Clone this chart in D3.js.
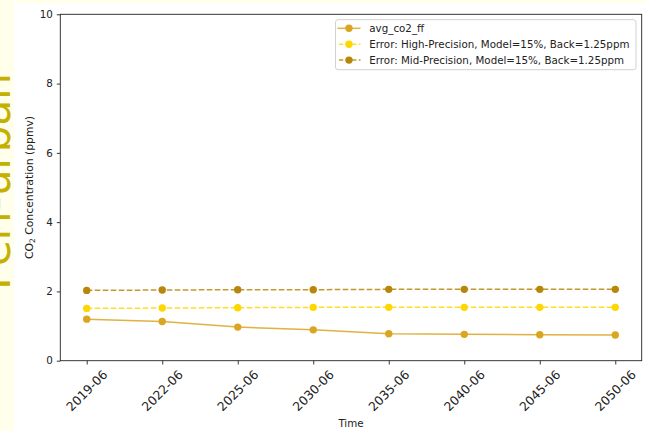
<!DOCTYPE html>
<html>
<head>
<meta charset="utf-8">
<script src="https://cdn.jsdelivr.net/npm/d3@7"></script>
<style>
  html, body { margin: 0; padding: 0; background: #FFFFEC; }
  svg { display: block; }
  text { font-family: "DejaVu Sans", sans-serif; }
</style>
</head>
<body>
<svg id="chart" width="646" height="431"></svg>
<script>
// Time steps (categorical x axis)
const categories = ["2019-06", "2022-06", "2025-06", "2030-06", "2035-06", "2040-06", "2045-06", "2050-06"];

// Fossil-fuel CO2 enhancement (ppmv)
const avgCo2Ff = [1.20, 1.13, 0.97, 0.89, 0.78, 0.76, 0.75, 0.74];
// Error estimates (ppmv)
const errHigh = [1.51, 1.52, 1.53, 1.54, 1.54, 1.54, 1.54, 1.54];
const errMid = [2.03, 2.04, 2.05, 2.05, 2.06, 2.06, 2.06, 2.06];

const yTicks = [0, 2, 4, 6, 8, 10];

const seriesNames = [
  "avg_co2_ff",
  "Error: High-Precision, Model=15%, Back=1.25ppm",
  "Error: Mid-Precision, Model=15%, Back=1.25ppm"
];

const series = [
  { name: seriesNames[0], values: avgCo2Ff, color: "#DAA520", dash: null },
  { name: seriesNames[1], values: errHigh, color: "#FFD700", dash: "5.6,2.4" },
  { name: seriesNames[2], values: errMid, color: "#B8860B", dash: "5.6,2.4" }
];

const W = 646, H = 431;
const plot = { left: 60.3, top: 14.3, right: 641.7, bottom: 360.7 };

const svg = d3.select("#chart");

// Site title running up the left edge
svg.append("text")
  .attr("transform", `translate(9.5, 181.5) rotate(-90)`)
  .attr("text-anchor", "middle")
  .attr("font-size", 42)
  .attr("fill", "#C4B000")
  .text("Peri-urban");

// White figure panel
svg.append("rect")
  .attr("x", 14).attr("y", 3.5)
  .attr("width", W - 14).attr("height", H - 3.5)
  .attr("fill", "#ffffff");

const x = d3.scalePoint()
  .domain(categories)
  .range([plot.left, plot.right])
  .padding(0.35);

const y = d3.scaleLinear()
  .domain([0, 10])
  .range([plot.bottom, plot.top]);

// Y axis
const yAxis = svg.append("g")
  .attr("transform", `translate(${plot.left},0)`)
  .call(d3.axisLeft(y).tickValues(yTicks).tickFormat(d3.format("d")).tickSize(3.5).tickPadding(4));
yAxis.select(".domain").remove();
yAxis.selectAll(".tick line").attr("stroke", "#222").attr("stroke-width", 0.9);
yAxis.selectAll(".tick text")
  .attr("font-size", 10.3)
  .attr("fill", "#222")
  .attr("font-family", "DejaVu Sans, sans-serif");

// X axis
const xAxis = svg.append("g")
  .attr("transform", `translate(0,${plot.bottom})`)
  .call(d3.axisBottom(x).tickSize(3.8).tickFormat(() => ""));
xAxis.select(".domain").remove();
xAxis.selectAll(".tick line").attr("stroke", "#222").attr("stroke-width", 0.9);

svg.append("g")
  .selectAll("text")
  .data(categories)
  .join("text")
  .attr("transform", d => `translate(${x(d)}, 390.5) rotate(-45)`)
  .attr("text-anchor", "middle")
  .attr("dominant-baseline", "central")
  .attr("font-size", 12.4)
  .attr("fill", "#222")
  .text(d => d);

// Frame
svg.append("rect")
  .attr("x", plot.left).attr("y", plot.top)
  .attr("width", plot.right - plot.left)
  .attr("height", plot.bottom - plot.top)
  .attr("fill", "none")
  .attr("stroke", "#222")
  .attr("stroke-width", 0.9);

// Axis titles
svg.append("text")
  .attr("x", (plot.left + plot.right) / 2)
  .attr("y", 427)
  .attr("text-anchor", "middle")
  .attr("font-size", 10.3)
  .attr("fill", "#222")
  .text("Time");

const yl = svg.append("text")
  .attr("transform", `translate(32.5, ${(plot.top + plot.bottom) / 2}) rotate(-90)`)
  .attr("text-anchor", "middle")
  .attr("font-size", 10.8)
  .attr("fill", "#222");
yl.append("tspan").text("CO");
yl.append("tspan").attr("font-size", 7.6).attr("dy", 2.5).text("2");
yl.append("tspan").attr("dy", -2.5).text(" Concentration (ppmv)");

// Series lines and markers
const line = d3.line()
  .x((d, i) => x(categories[i]))
  .y(d => y(d));

const g = svg.append("g");
series.forEach(s => {
  g.append("path")
    .datum(s.values)
    .attr("d", line)
    .attr("fill", "none")
    .attr("stroke", s.color)
    .attr("stroke-opacity", 0.85)
    .attr("stroke-width", 1.5)
    .attr("stroke-dasharray", s.dash);
  g.selectAll(null)
    .data(s.values)
    .join("circle")
    .attr("cx", (d, i) => x(categories[i]))
    .attr("cy", d => y(d))
    .attr("r", 3.7)
    .attr("fill", s.color);
});

// Legend
const lg = svg.append("g");
lg.append("rect")
  .attr("x", 335.5).attr("y", 19.7)
  .attr("width", 300.5).attr("height", 50)
  .attr("rx", 2.5)
  .attr("fill", "#ffffff").attr("fill-opacity", 0.8)
  .attr("stroke", "#cccccc").attr("stroke-width", 0.9);

series.forEach((s, i) => {
  const cy = 28.3 + i * 15.9;
  lg.append("line")
    .attr("x1", 337.5).attr("x2", 360.5)
    .attr("y1", cy).attr("y2", cy)
    .attr("stroke", s.color)
    .attr("stroke-opacity", 0.85)
    .attr("stroke-width", 1.5)
    .attr("stroke-dasharray", s.dash ? "4.2,2.4" : null)
    .attr("stroke-dashoffset", s.dash ? -1.5 : null);
  lg.append("circle")
    .attr("cx", 349).attr("cy", cy).attr("r", 3.7)
    .attr("fill", s.color);
  lg.append("text")
    .attr("x", 369.3).attr("y", cy)
    .attr("dominant-baseline", "central")
    .attr("font-size", 10.3)
    .attr("fill", "#222")
    .text(s.name);
});
</script>
</body>
</html>
